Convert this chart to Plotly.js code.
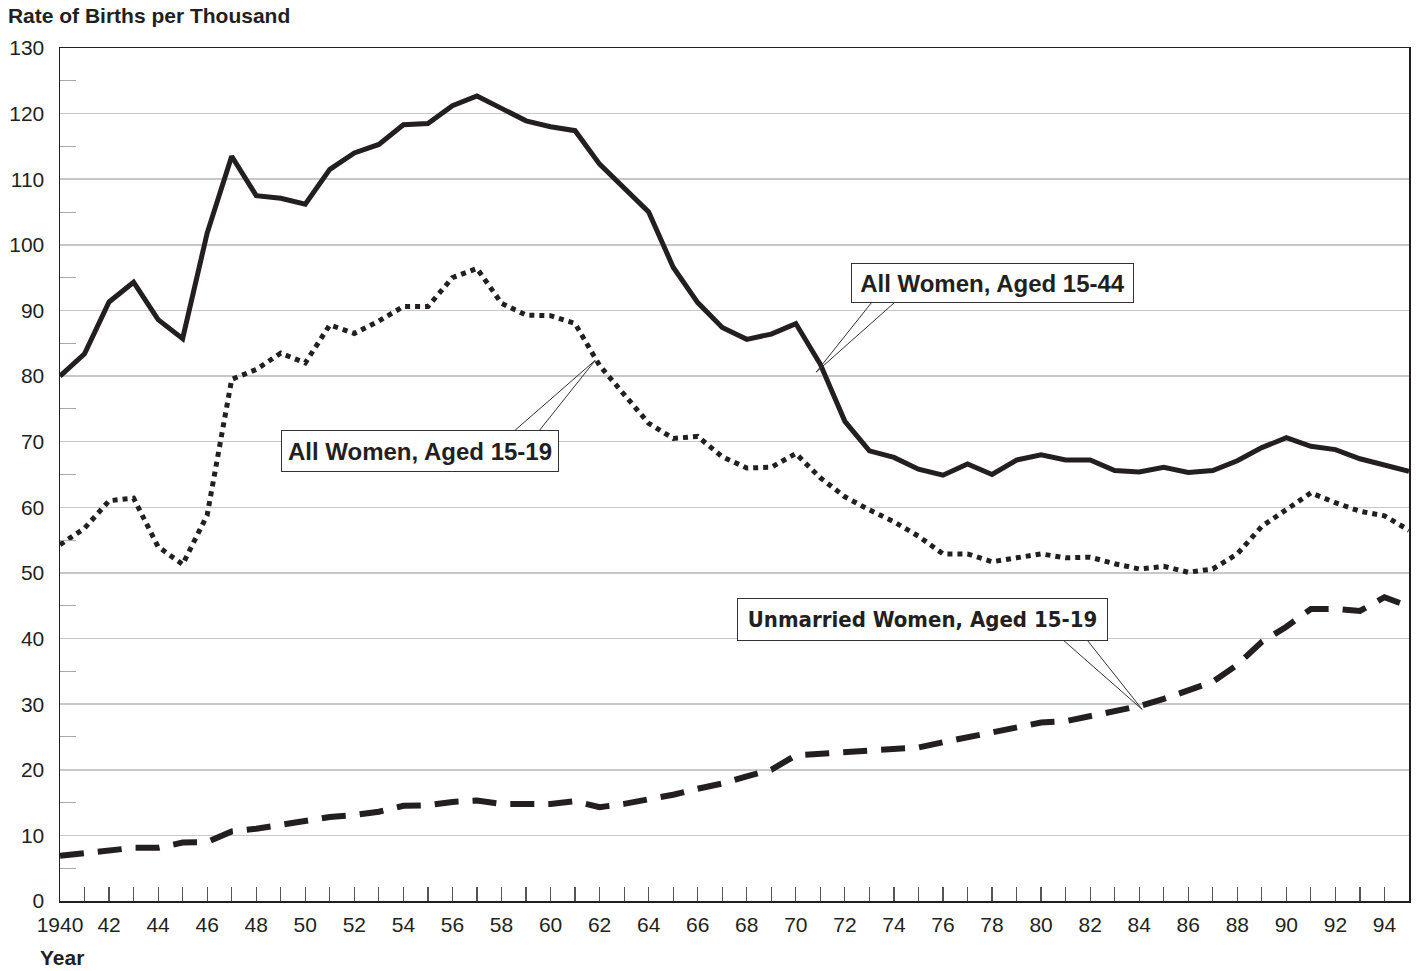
<!DOCTYPE html>
<html>
<head>
<meta charset="utf-8">
<script src="https://cdn.plot.ly/plotly-3.0.1.min.js"></script>
<style>html,body{margin:0;padding:0;background:#fff;}#chart{width:1416px;height:971px;}</style>
</head>
<body>
<div id="chart"></div>
<script>
const years = [1940,1941,1942,1943,1944,1945,1946,1947,1948,1949,1950,1951,1952,1953,1954,1955,1956,1957,1958,1959,1960,1961,1962,1963,1964,1965,1966,1967,1968,1969,1970,1971,1972,1973,1974,1975,1976,1977,1978,1979,1980,1981,1982,1983,1984,1985,1986,1987,1988,1989,1990,1991,1992,1993,1994,1995];

const allWomen15to44 = [80.0,83.4,91.3,94.3,88.6,85.7,101.8,113.5,107.5,107.1,106.2,111.5,114.0,115.3,118.3,118.5,121.2,122.7,120.8,118.9,118.0,117.4,112.3,108.7,105.0,96.6,91.2,87.4,85.6,86.4,88.0,81.8,73.1,68.6,67.6,65.8,64.9,66.6,65.0,67.2,68.0,67.2,67.2,65.6,65.4,66.1,65.3,65.6,67.1,69.1,70.6,69.3,68.8,67.4,66.5,65.5];

const allWomen15to19 = [54.3,56.8,61.0,61.4,54.0,51.3,58.8,79.5,81.0,83.5,82.0,87.8,86.5,88.4,90.6,90.6,95.0,96.4,91.1,89.3,89.2,88.0,81.6,77.2,72.8,70.5,70.8,67.7,66.0,66.1,68.2,64.5,61.6,59.6,57.8,55.6,52.9,52.9,51.7,52.3,52.9,52.3,52.4,51.4,50.6,51.0,50.1,50.6,52.9,57.1,59.7,62.2,60.7,59.4,58.7,56.5];

const unmarried15to19 = [6.9,7.3,7.8,8.1,8.1,8.9,9.0,10.6,11.0,11.6,12.2,12.8,13.1,13.6,14.5,14.6,15.1,15.3,14.8,14.8,14.8,15.2,14.3,14.8,15.4,16.2,17.1,17.9,19.0,20.0,22.2,22.4,22.6,22.9,23.2,23.4,24.2,25.0,25.6,26.4,27.2,27.4,28.2,29.0,29.7,30.8,32.1,33.4,36.0,39.5,41.8,44.5,44.5,44.2,46.3,44.9];

const tickYears = [1940,1941,1942,1943,1944,1945,1946,1947,1948,1949,1950,1951,1952,1953,1954,1955,1956,1957,1958,1959,1960,1961,1962,1963,1964,1965,1966,1967,1968,1969,1970,1971,1972,1973,1974,1975,1976,1977,1978,1979,1980,1981,1982,1983,1984,1985,1986,1987,1988,1989,1990,1991,1992,1993,1994];
const tickLabels = ["1940","","42","","44","","46","","48","","50","","52","","54","","56","","58","","60","","62","","64","","66","","68","","70","","72","","74","","76","","78","","80","","82","","84","","86","","88","","90","","92","","94"];

const seriesNames = ["All Women, Aged 15-44","All Women, Aged 15-19","Unmarried Women, Aged 15-19"];

const ink = '#231f20';
const font = 'Arial, "Liberation Sans", Helvetica, sans-serif';
const narrow = '"Liberation Sans Narrow", "Arial Narrow", "DejaVu Sans Condensed", sans-serif';

const traces = [
  {x: years, y: allWomen15to44, name: seriesNames[0], mode: 'lines', line: {color: ink, width: 5, dash: 'solid'}},
  {x: years, y: allWomen15to19, name: seriesNames[1], mode: 'lines', line: {color: ink, width: 5, dash: 'dot'}},
  {x: years, y: unmarried15to19, name: seriesNames[2], mode: 'lines', line: {color: ink, width: 6, dash: '24px,14px'}}
];

const boxStyle = {showarrow: false, xref: 'x', yref: 'y', bgcolor: '#ffffff', bordercolor: '#333333', borderwidth: 1, borderpad: 5};

const layout = {
  width: 1416, height: 971,
  margin: {l: 60, r: 7, t: 48, b: 70},
  paper_bgcolor: '#fff', plot_bgcolor: '#fff',
  showlegend: false,
  font: {family: font, color: ink, size: 21},
  title: {text: '<b>Rate of Births per Thousand</b>', x: 0.0056, xref: 'container', xanchor: 'left', y: 0.9835, yref: 'container', yanchor: 'middle', font: {family: font, size: 21, color: ink}},
  xaxis: {
    range: [1940, 1995], tickmode: 'array', tickvals: tickYears, ticktext: tickLabels,
    ticks: 'inside', ticklen: 14, tickwidth: 1.2, tickcolor: '#555',
    showline: true, mirror: true, linecolor: ink, linewidth: 1.5,
    showgrid: false, zeroline: false, tickfont: {size: 21, color: ink}, ticklabelstandoff: 4
  },
  yaxis: {
    range: [0, 130], tickmode: 'linear', tick0: 0, dtick: 10,
    ticks: '', showgrid: true, gridcolor: '#c8c8c8', gridwidth: 1.5,
    showline: true, mirror: true, linecolor: ink, linewidth: 1.5, zeroline: false,
    tickfont: {size: 21, color: ink}, ticklabelstandoff: 10,
    minor: {dtick: 5, tick0: 0, ticks: 'inside', ticklen: 16, tickwidth: 1, tickcolor: '#aaaaaa', showgrid: false}
  },
  annotations: [
    Object.assign({}, boxStyle, {x: 1978.02, y: 94.2, width: 271, height: 28, text: '<b>' + seriesNames[0] + '</b>', font: {family: font, size: 24, color: ink}}),
    Object.assign({}, boxStyle, {x: 1954.69, y: 68.6, width: 266, height: 30, text: '<b>' + seriesNames[1] + '</b>', font: {family: font, size: 24, color: ink}}),
    Object.assign({}, boxStyle, {x: 1975.17, y: 42.9, width: 359, height: 31, text: '<b>' + seriesNames[2] + '</b>', font: {family: narrow, size: 22, color: ink}}),
    {xref: 'paper', yref: 'paper', x: -0.016, y: -0.0668, xanchor: 'left', yanchor: 'middle', showarrow: false, text: '<b>Year</b>', font: {family: font, size: 21, color: ink}}
  ],
  shapes: [
    {type: 'path', xref: 'x', yref: 'y', layer: 'above', path: 'M 1973.11 91.3 L 1970.83 80.6 L 1974.05 91.3', line: {color: '#333', width: 1}},
    {type: 'path', xref: 'x', yref: 'y', layer: 'above', path: 'M 1958.48 71.5 L 1961.82 82.4 L 1959.50 71.5', line: {color: '#333', width: 1}},
    {type: 'path', xref: 'x', yref: 'y', layer: 'above', path: 'M 1980.89 39.8 L 1984.12 29.2 L 1981.87 39.8', line: {color: '#333', width: 1}}
  ]
};

Plotly.newPlot('chart', traces, layout, {displayModeBar: false, staticPlot: true});
</script>
</body>
</html>
